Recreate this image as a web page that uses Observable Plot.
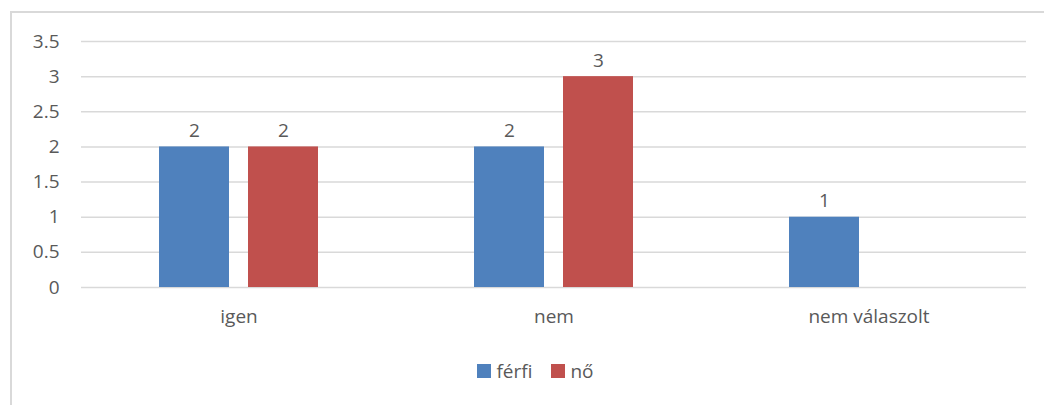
<!DOCTYPE html>
<html><head><meta charset="utf-8">
<script src="https://cdn.jsdelivr.net/npm/d3@7"></script>
<script src="https://cdn.jsdelivr.net/npm/@observablehq/plot@0.6"></script>
<style>
body{margin:0;background:#fff;width:1044px;height:405px;overflow:hidden;position:relative;}
#frame{position:absolute;left:10px;top:11px;width:1100px;height:450px;border:2px solid #d9d9d9;box-sizing:border-box;}
#chart{position:absolute;left:0;top:0;}
#legend{position:absolute;left:0;top:354px;width:1044px;padding-left:23px;box-sizing:content-box;display:flex;justify-content:center;}
#legend span > svg{margin-right:5px !important;}
</style></head><body>
<div id="frame"></div><div id="chart"></div><div id="legend"></div>
<script>
const categories = ["igen", "nem", "nem válaszolt"];
const series = ["férfi", "nő"];
const ferfi = [2, 2, 1];
const no = [2, 3, null];
const yTicks = [0, 0.5, 1, 1.5, 2, 2.5, 3, 3.5];
const colors = ["#4f81bd", "#c0504d"];

const data = categories.flatMap((c, i) => [
  {category: c, series: "férfi", value: ferfi[i]},
  {category: c, series: "nő", value: no[i]}
]).filter(d => d.value != null);

const font = {fontFamily: "'Open Sans', sans-serif", fontSize: "19px", color: "#595959", background: "transparent"};

const chart = Plot.plot({
  width: 1044, height: 340,
  marginLeft: 80, marginRight: 17, marginTop: 41, marginBottom: 53,
  style: font,
  fx: {domain: categories, padding: 0, label: null, axis: "bottom", tickSize: 0, tickPadding: 22},
  x: {domain: series, paddingInner: 0.211, paddingOuter: 0.861, axis: null},
  y: {domain: [0, 3.5], label: null},
  color: {domain: series, range: colors},
  marks: [
    Plot.gridY(yTicks, {stroke: "#d9d9d9", strokeOpacity: 1, strokeWidth: 1.5}),
    Plot.axisY(yTicks, {tickSize: 0, tickPadding: 22, tickFormat: d => String(d), label: null, fill: "#595959"}),
    Plot.barY(data, {fx: "category", x: "series", y: "value", fill: "series"}),
    Plot.text(data, {fx: "category", x: "series", y: "value", text: d => String(d.value), dy: -10, lineAnchor: "bottom", fill: "#595959"})
  ]
});
document.getElementById("chart").appendChild(chart);

const legend = Plot.legend({
  color: {domain: series, range: colors},
  legend: "swatches",
  swatchSize: 14,
  style: font
});
document.getElementById("legend").appendChild(legend);
</script>
</body></html>
